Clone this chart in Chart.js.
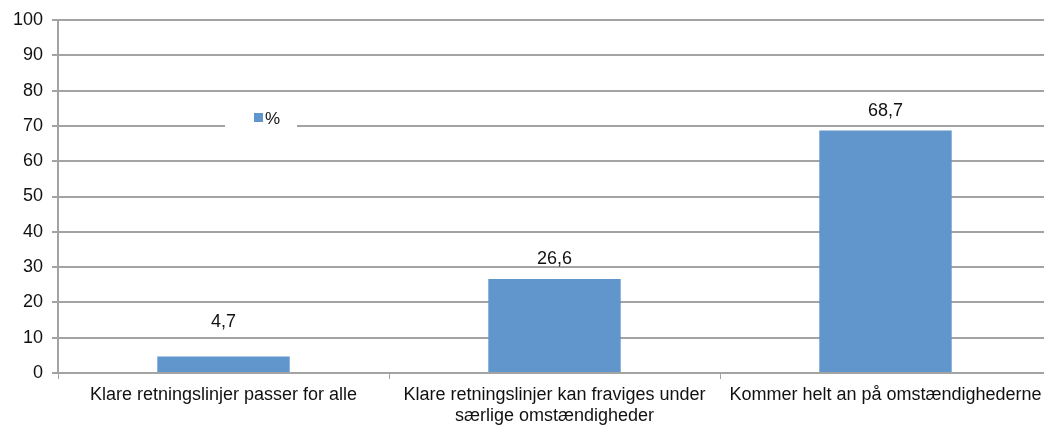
<!DOCTYPE html>
<html>
<head>
<meta charset="utf-8">
<script src="https://cdn.jsdelivr.net/npm/chart.js@4.4.0/dist/chart.umd.min.js"></script>
<style>
  html, body { margin: 0; padding: 0; background: #fff; overflow: hidden; }
  #wrap { width: 1052px; height: 426px; }
</style>
</head>
<body>
<div id="wrap"><canvas id="myChart"></canvas></div>
<script>
// data
const categories = [
    'Klare retningslinjer passer for alle',
    ['Klare retningslinjer kan fraviges under', 'særlige omstændigheder'],
    'Kommer helt an på omstændighederne'
];
const percentValues = [4.7, 26.6, 68.7];
const yTicks = [0, 10, 20, 30, 40, 50, 60, 70, 80, 90, 100];
const seriesName = '%';

const barColor = 'rgb(96, 150, 203)';
const gridColor = '#a3a3a3';
const fontFamily = '"Liberation Sans", Arial, sans-serif';

// value labels over the bars (Excel had the first one nudged up a bit)
const valueLabels = {
    id: 'valueLabels',
    afterDatasetsDraw(chart) {
        const ctx = chart.ctx;
        const meta = chart.getDatasetMeta(0);
        const lift = [34, 20, 19];
        ctx.save();
        ctx.font = '18px ' + fontFamily;
        ctx.fillStyle = '#111';
        ctx.textAlign = 'center';
        ctx.textBaseline = 'middle';
        meta.data.forEach(function (bar, i) {
            const txt = percentValues[i].toFixed(1).replace('.', ',');
            ctx.fillText(txt, bar.x, bar.y - lift[i]);
        });
        ctx.restore();
    }
};

// legend sits inside the plot on a white patch
const innerLegend = {
    id: 'innerLegend',
    afterDraw(chart) {
        const ctx = chart.ctx;
        const area = chart.chartArea;
        const cx = area.left + 203;
        const cy = area.top + 98;
        ctx.save();
        ctx.fillStyle = '#fff';
        ctx.fillRect(cx - 36, cy - 14, 72, 28);
        ctx.fillStyle = chart.data.datasets[0].backgroundColor;
        ctx.fillRect(cx - 7, cy - 5, 9, 9);
        ctx.font = '17px ' + fontFamily;
        ctx.fillStyle = '#111';
        ctx.textAlign = 'left';
        ctx.textBaseline = 'middle';
        ctx.fillText(chart.data.datasets[0].label, cx + 4, cy + 1);
        ctx.restore();
    }
};

const ctx = document.getElementById('myChart');
const myChart = new Chart(ctx, {
    type: 'bar',
    data: {
        labels: categories,
        datasets: [{
            label: seriesName,
            data: percentValues,
            backgroundColor: barColor,
            borderWidth: 0,
            barPercentage: 0.4,
            categoryPercentage: 1
        }]
    },
    options: {
        responsive: true,
        maintainAspectRatio: false,
        animation: false,
        layout: { padding: { top: 20, right: 1, left: 0, bottom: 0 } },
        plugins: {
            legend: { display: false },
            tooltip: { enabled: false }
        },
        scales: {
            x: {
                grid: {
                    offset: true,
                    drawOnChartArea: false,
                    drawTicks: true,
                    tickLength: 6,
                    color: gridColor
                },
                border: { color: gridColor, width: 2 },
                ticks: {
                    color: '#111',
                    font: { family: fontFamily, size: 18, lineHeight: 1.2 },
                    maxRotation: 0,
                    autoSkip: false,
                    padding: 5
                },
                afterFit: function (scale) { scale.height = 53; }
            },
            y: {
                min: 0,
                max: 100,
                afterBuildTicks: function (scale) {
                    scale.ticks = yTicks.map(function (v) { return { value: v }; });
                },
                grid: {
                    color: gridColor,
                    lineWidth: 2,
                    tickLength: 6
                },
                border: { color: gridColor, width: 2 },
                ticks: {
                    color: '#111',
                    font: { family: fontFamily, size: 18 },
                    padding: 9
                },
                afterFit: function (scale) { scale.width = 58; }
            }
        }
    },
    plugins: [valueLabels, innerLegend]
});
</script>
</body>
</html>
